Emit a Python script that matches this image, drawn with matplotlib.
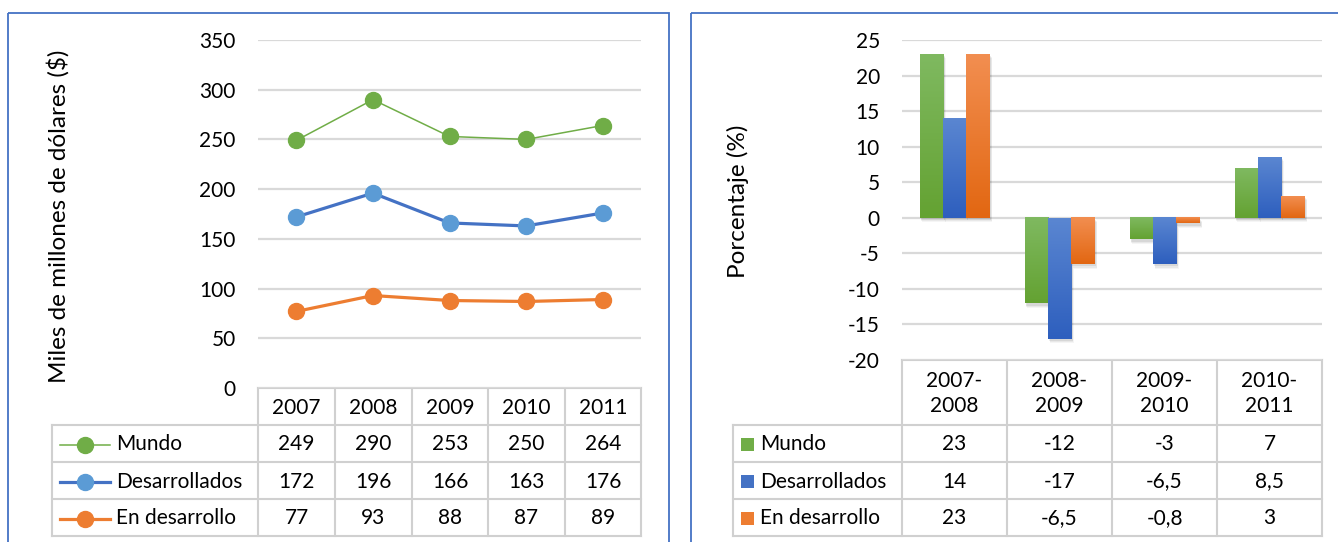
import numpy as np
import matplotlib.pyplot as plt
from matplotlib.patches import Rectangle
from matplotlib.lines import Line2D
from matplotlib.colors import LinearSegmentedColormap

plt.rcParams['font.family'] = ['Lato', 'DejaVu Sans']
plt.rcParams['axes.unicode_minus'] = False

# data
years = ['2007', '2008', '2009', '2010', '2011']
series = ['Mundo', 'Desarrollados', 'En desarrollo']
mundo = [249, 290, 253, 250, 264]
desarrollados = [172, 196, 166, 163, 176]
en_desarrollo = [77, 93, 88, 87, 89]

periods = ['2007-\n2008', '2008-\n2009', '2009-\n2010', '2010-\n2011']
pct_mundo = [23, -12, -3, 7]
pct_desarrollados = [14, -17, -6.5, 8.5]
pct_en_desarrollo = [23, -6.5, -0.8, 3]

line_vals = [mundo, desarrollados, en_desarrollo]
bar_vals = [pct_mundo, pct_desarrollados, pct_en_desarrollo]

line_cols = ['#70AD47', '#4472C4', '#ED7D31']
mark_cols = ['#70AD47', '#5B9BD5', '#ED7D31']
line_w = [1.1, 2.3, 2.3]
bar_top = ['#7FB960', '#5A86D1', '#F28E50']
bar_bot = ['#64A232', '#2E5FBE', '#E26712']
bar_mid = ['#70AD47', '#4472C4', '#ED7D31']

W, H = 1338, 542
fig = plt.figure(figsize=(W / 100, H / 100), dpi=100)

grid_c = '#D9D9D9'
tab_c = '#D0D0D0'
fs = 15
fs_lab = 17.5


def rect(x0, y0, x1, y1):
    return [x0 / W, 1 - y1 / H, (x1 - x0) / W, (y1 - y0) / H]


def fmt(v):
    return f'{v:g}'.replace('.', ',')


# overlay for tables and frames (pixel layout)
ov = fig.add_axes([0, 0, 1, 1])
ov.set_xlim(0, W)
ov.set_ylim(H, 0)
ov.axis('off')

ov.add_patch(Rectangle((7.5, 12.5), 661, 545, fill=False, ec='#4472C4', lw=1.3))
ov.add_patch(Rectangle((690.5, 12.5), 660, 545, fill=False, ec='#4472C4', lw=1.3))

# ---- left: line chart ----
ax1 = fig.add_axes(rect(258, 40, 641, 388))
x = np.arange(len(years))
for vals, lc, mc, lw in zip(line_vals, line_cols, mark_cols, line_w):
    ax1.plot(x, vals, color=lc, lw=lw, marker='o', ms=11.5, mfc=mc, mec=mc, zorder=3)
ax1.set_xlim(-0.5, len(years) - 0.5)
ax1.set_ylim(0, 350)
ax1.set_yticks(range(0, 351, 50))
ax1.set_xticks([])
ax1.yaxis.grid(True, color=grid_c, lw=1.6)
ax1.set_axisbelow(True)
for s in ax1.spines.values():
    s.set_visible(False)
ax1.tick_params(axis='y', length=0, pad=16, labelsize=fs, labelcolor='#000000')
fig.text(58 / W, 1 - 216 / H, 'Miles de millones de dólares ($)', rotation=90,
         ha='center', va='center', fontsize=fs_lab)

# left table
cols1 = [258, 335, 412, 488, 565, 641]
rows1 = [388, 425, 462, 499, 536]
lab_x1 = 52
ov.plot([cols1[0], cols1[-1]], [rows1[0]] * 2, color=tab_c, lw=1.5)
for yy in rows1[1:]:
    ov.plot([lab_x1, cols1[-1]], [yy] * 2, color=tab_c, lw=1.5)
for xx in cols1:
    ov.plot([xx, xx], [rows1[0], rows1[-1]], color=tab_c, lw=1.5)
ov.plot([lab_x1, lab_x1], [rows1[1], rows1[-1]], color=tab_c, lw=1.5)
for i, yr in enumerate(years):
    ov.text((cols1[i] + cols1[i + 1]) / 2, (rows1[0] + rows1[1]) / 2 + 1, yr,
            ha='center', va='center', fontsize=fs)
for r, (name, vals) in enumerate(zip(series, line_vals)):
    yc = (rows1[r + 1] + rows1[r + 2]) / 2 + 1
    ov.add_line(Line2D([60, 110], [yc, yc], color=line_cols[r], lw=line_w[r]))
    ov.plot([85], [yc], marker='o', ms=11.5, color=mark_cols[r])
    ov.text(116, yc, name, ha='left', va='center', fontsize=fs)
    for i, v in enumerate(vals):
        ov.text((cols1[i] + cols1[i + 1]) / 2, yc, fmt(v), ha='center', va='center', fontsize=fs)

# ---- right: bar chart ----
ax2 = fig.add_axes(rect(902, 40, 1322, 360))
xb = np.arange(len(periods))
bw = 0.222
for k, (vals, ct, cb) in enumerate(zip(bar_vals, bar_top, bar_bot)):
    cmap = LinearSegmentedColormap.from_list('g', [cb, ct])
    grad = np.linspace(1, 0, 64).reshape(-1, 1)
    for xi, v in zip(xb, vals):
        x0 = xi + (k - 1.5) * bw
        # soft shadow
        for j, a in enumerate([0.07, 0.05, 0.04]):
            ax2.add_patch(Rectangle((x0 + 0.012 + j * 0.006, min(0, v) - 0.35 - j * 0.15),
                                    bw + 0.004, abs(v) + 0.1, color='#000000',
                                    alpha=a, lw=0, zorder=1))
        top, bot = max(0, v), min(0, v)
        ax2.imshow(grad, extent=(x0, x0 + bw, bot, top), aspect='auto', cmap=cmap,
                   zorder=2, interpolation='bilinear')
ax2.set_xlim(-0.5, len(periods) - 0.5)
ax2.set_ylim(-20, 25)
ax2.set_yticks(range(-20, 26, 5))
ax2.set_xticks([])
ax2.yaxis.grid(True, color=grid_c, lw=1.6)
ax2.set_axisbelow(True)
for s in ax2.spines.values():
    s.set_visible(False)
ax2.tick_params(axis='y', length=0, pad=16, labelsize=fs, labelcolor='#000000')
fig.text(738 / W, 1 - 201 / H, 'Porcentaje (%)', rotation=90,
         ha='center', va='center', fontsize=fs_lab)

# right table
cols2 = [902, 1007, 1112, 1217, 1322]
rows2 = [360, 425, 462, 499, 536]
lab_x2 = 733
ov.plot([cols2[0], cols2[-1]], [rows2[0]] * 2, color=tab_c, lw=1.5)
for yy in rows2[1:]:
    ov.plot([lab_x2, cols2[-1]], [yy] * 2, color=tab_c, lw=1.5)
for xx in cols2:
    ov.plot([xx, xx], [rows2[0], rows2[-1]], color=tab_c, lw=1.5)
ov.plot([lab_x2, lab_x2], [rows2[1], rows2[-1]], color=tab_c, lw=1.5)
for i, p in enumerate(periods):
    ov.text((cols2[i] + cols2[i + 1]) / 2, (rows2[0] + rows2[1]) / 2 + 1, p,
            ha='center', va='center', fontsize=fs, linespacing=1.3)
for r, (name, vals) in enumerate(zip(series, bar_vals)):
    yc = (rows2[r + 1] + rows2[r + 2]) / 2 + 1
    ov.add_patch(Rectangle((741, yc - 6.5), 13, 13, color=bar_mid[r], lw=0))
    ov.text(760, yc, name, ha='left', va='center', fontsize=fs)
    for i, v in enumerate(vals):
        ov.text((cols2[i] + cols2[i + 1]) / 2, yc, fmt(v), ha='center', va='center', fontsize=fs)

fig.savefig('out.png', dpi=100)
